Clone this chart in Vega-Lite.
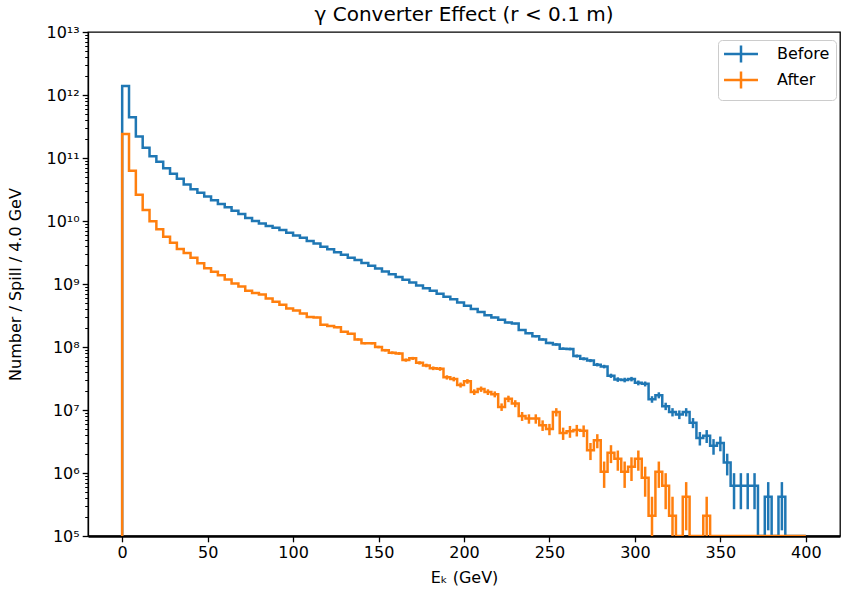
{
  "$schema": "https://vega.github.io/schema/vega-lite/v6.json",
  "width": 752,
  "height": 504,
  "autosize": {"type": "none"},
  "padding": {"left": 88, "top": 32, "right": 2, "bottom": 54},
  "title": {"text": "γ Converter Effect (r < 0.1 m)", "fontSize": 20, "font": "DejaVu Sans", "fontWeight": "normal", "color": "black", "offset": -1, "anchor": "middle"},
  "config": {
    "font": "DejaVu Sans",
    "view": {"stroke": "black", "strokeWidth": 1.3},
    "axis": {"domainColor": "black", "tickColor": "black", "labelColor": "black", "titleColor": "black", "labelFont": "DejaVu Sans", "titleFont": "DejaVu Sans", "labelFontSize": 16, "titleFontSize": 16, "titleFontWeight": "normal", "grid": false, "domainWidth": 1.3, "tickWidth": 1.3, "zindex": 1, "labelOverlap": false, "labelFlush": false},
    "legend": {"orient": "none", "legendX": 630, "legendY": 8, "padding": 6, "fillColor": "rgba(255,255,255,0.8)", "strokeColor": "#cccccc", "cornerRadius": 4, "labelFontSize": 16, "labelFont": "DejaVu Sans", "labelColor": "black", "symbolType": "M-1.33,0H4.33M1.5,-1.42V1.42", "symbolSize": 144, "symbolStrokeWidth": 2.5, "symbolFillColor": "transparent", "labelOffset": 37, "rowPadding": -2}
  },
  "datasets": {
    "h": [
      {"s":"Before","i":-1,"e":0,"v":0},
      {"s":"Before","i":0,"e":0,"c":2,"v":1.39e12,"err":5.4e8},
      {"s":"Before","i":1,"e":4,"c":6,"v":4.43e11,"err":3.05e8},
      {"s":"Before","i":2,"e":8,"c":10,"v":2.19e11,"err":2.14e8},
      {"s":"Before","i":3,"e":12,"c":14,"v":1.45e11,"err":1.75e8},
      {"s":"Before","i":4,"e":16,"c":18,"v":1.07e11,"err":1.5e8},
      {"s":"Before","i":5,"e":20,"c":22,"v":8.7e10,"err":1.35e8},
      {"s":"Before","i":6,"e":24,"c":26,"v":6.9e10,"err":1.2e8},
      {"s":"Before","i":7,"e":28,"c":30,"v":5.6e10,"err":1.08e8},
      {"s":"Before","i":8,"e":32,"c":34,"v":4.7e10,"err":9.9e7},
      {"s":"Before","i":9,"e":36,"c":38,"v":3.8e10,"err":8.9e7},
      {"s":"Before","i":10,"e":40,"c":42,"v":3.2e10,"err":8.2e7},
      {"s":"Before","i":11,"e":44,"c":46,"v":2.8e10,"err":7.7e7},
      {"s":"Before","i":12,"e":48,"c":50,"v":2.45e10,"err":7.2e7},
      {"s":"Before","i":13,"e":52,"c":54,"v":2.14e10,"err":6.7e7},
      {"s":"Before","i":14,"e":56,"c":58,"v":1.86e10,"err":6.25e7},
      {"s":"Before","i":15,"e":60,"c":62,"v":1.66e10,"err":5.9e7},
      {"s":"Before","i":16,"e":64,"c":66,"v":1.45e10,"err":5.5e7},
      {"s":"Before","i":17,"e":68,"c":70,"v":1.29e10,"err":5.2e7},
      {"s":"Before","i":18,"e":72,"c":74,"v":1.12e10,"err":4.85e7},
      {"s":"Before","i":19,"e":76,"c":78,"v":1.0e10,"err":4.6e7},
      {"s":"Before","i":20,"e":80,"c":82,"v":9.1e9,"err":4.4e7},
      {"s":"Before","i":21,"e":84,"c":86,"v":8.3e9,"err":4.2e7},
      {"s":"Before","i":22,"e":88,"c":90,"v":7.8e9,"err":4.05e7},
      {"s":"Before","i":23,"e":92,"c":94,"v":7.2e9,"err":3.9e7},
      {"s":"Before","i":24,"e":96,"c":98,"v":6.5e9,"err":3.7e7},
      {"s":"Before","i":25,"e":100,"c":102,"v":5.9e9,"err":3.5e7},
      {"s":"Before","i":26,"e":104,"c":106,"v":5.4e9,"err":3.4e7},
      {"s":"Before","i":27,"e":108,"c":110,"v":4.8e9,"err":3.2e7},
      {"s":"Before","i":28,"e":112,"c":114,"v":4.4e9,"err":3.0e7},
      {"s":"Before","i":29,"e":116,"c":118,"v":3.9e9,"err":2.9e7},
      {"s":"Before","i":30,"e":120,"c":122,"v":3.55e9,"err":2.7e7},
      {"s":"Before","i":31,"e":124,"c":126,"v":3.2e9,"err":2.6e7},
      {"s":"Before","i":32,"e":128,"c":130,"v":2.9e9,"err":2.5e7},
      {"s":"Before","i":33,"e":132,"c":134,"v":2.6e9,"err":2.3e7},
      {"s":"Before","i":34,"e":136,"c":138,"v":2.4e9,"err":2.2e7},
      {"s":"Before","i":35,"e":140,"c":142,"v":2.15e9,"err":2.1e7},
      {"s":"Before","i":36,"e":144,"c":146,"v":1.95e9,"err":2.0e7},
      {"s":"Before","i":37,"e":148,"c":150,"v":1.76e9,"err":1.9e7},
      {"s":"Before","i":38,"e":152,"c":154,"v":1.58e9,"err":1.8e7},
      {"s":"Before","i":39,"e":156,"c":158,"v":1.43e9,"err":1.7e7},
      {"s":"Before","i":40,"e":160,"c":162,"v":1.29e9,"err":1.65e7},
      {"s":"Before","i":41,"e":164,"c":166,"v":1.17e9,"err":1.57e7},
      {"s":"Before","i":42,"e":168,"c":170,"v":1.06e9,"err":1.5e7},
      {"s":"Before","i":43,"e":172,"c":174,"v":9.5e8,"err":1.41e7},
      {"s":"Before","i":44,"e":176,"c":178,"v":8.6e8,"err":1.34e7},
      {"s":"Before","i":45,"e":180,"c":182,"v":7.8e8,"err":1.28e7},
      {"s":"Before","i":46,"e":184,"c":186,"v":7.0e8,"err":1.21e7},
      {"s":"Before","i":47,"e":188,"c":190,"v":6.3e8,"err":1.15e7},
      {"s":"Before","i":48,"e":192,"c":194,"v":5.75e8,"err":1.1e7},
      {"s":"Before","i":49,"e":196,"c":198,"v":5.1e8,"err":1.03e7},
      {"s":"Before","i":50,"e":200,"c":202,"v":4.5e8,"err":9.7e6},
      {"s":"Before","i":51,"e":204,"c":206,"v":4.0e8,"err":9.2e6},
      {"s":"Before","i":52,"e":208,"c":210,"v":3.6e8,"err":8.7e6},
      {"s":"Before","i":53,"e":212,"c":214,"v":3.2e8,"err":8.2e6},
      {"s":"Before","i":54,"e":216,"c":218,"v":2.95e8,"err":7.9e6},
      {"s":"Before","i":55,"e":220,"c":222,"v":2.7e8,"err":7.5e6},
      {"s":"Before","i":56,"e":224,"c":226,"v":2.45e8,"err":7.2e6},
      {"s":"Before","i":57,"e":228,"c":230,"v":2.35e8,"err":7.0e6},
      {"s":"Before","i":58,"e":232,"c":234,"v":1.86e8,"err":6.25e6},
      {"s":"Before","i":59,"e":236,"c":238,"v":1.66e8,"err":5.9e6},
      {"s":"Before","i":60,"e":240,"c":242,"v":1.48e8,"err":5.6e6},
      {"s":"Before","i":61,"e":244,"c":246,"v":1.32e8,"err":5.3e6},
      {"s":"Before","i":62,"e":248,"c":250,"v":1.16e8,"err":4.9e6},
      {"s":"Before","i":63,"e":252,"c":254,"v":1.10e8,"err":4.8e6},
      {"s":"Before","i":64,"e":256,"c":258,"v":9.4e7,"err":4.44e6},
      {"s":"Before","i":65,"e":260,"c":262,"v":9.3e7,"err":4.42e6},
      {"s":"Before","i":66,"e":264,"c":266,"v":7.2e7,"err":3.9e6},
      {"s":"Before","i":67,"e":268,"c":270,"v":6.5e7,"err":3.7e6},
      {"s":"Before","i":68,"e":272,"c":274,"v":6.1e7,"err":3.58e6},
      {"s":"Before","i":69,"e":276,"c":278,"v":5.25e7,"err":3.32e6},
      {"s":"Before","i":70,"e":280,"c":282,"v":4.9e7,"err":3.2e6},
      {"s":"Before","i":71,"e":284,"c":286,"v":3.5e7,"err":2.71e6},
      {"s":"Before","i":72,"e":288,"c":290,"v":3.05e7,"err":2.53e6},
      {"s":"Before","i":73,"e":292,"c":294,"v":3.0e7,"err":2.51e6},
      {"s":"Before","i":74,"e":296,"c":298,"v":3.1e7,"err":2.55e6},
      {"s":"Before","i":75,"e":300,"c":302,"v":2.7e7,"err":2.38e6},
      {"s":"Before","i":76,"e":304,"c":306,"v":2.6e7,"err":2.34e6},
      {"s":"Before","i":77,"e":308,"c":310,"v":1.48e7,"err":1.76e6},
      {"s":"Before","i":78,"e":312,"c":314,"v":1.72e7,"err":1.9e6},
      {"s":"Before","i":79,"e":316,"c":318,"v":1.15e7,"err":1.55e6},
      {"s":"Before","i":80,"e":320,"c":322,"v":9.3e6,"err":1.4e6},
      {"s":"Before","i":81,"e":324,"c":326,"v":8.5e6,"err":1.34e6},
      {"s":"Before","i":82,"e":328,"c":330,"v":9.3e6,"err":1.4e6},
      {"s":"Before","i":83,"e":332,"c":334,"v":6.3e6,"err":1.15e6},
      {"s":"Before","i":84,"e":336,"c":338,"v":3.6e6,"err":8.7e5},
      {"s":"Before","i":85,"e":340,"c":342,"v":3.9e6,"err":9.05e5},
      {"s":"Before","i":86,"e":344,"c":346,"v":2.7e6,"err":7.5e5},
      {"s":"Before","i":87,"e":348,"c":350,"v":3.0e6,"err":7.9e5},
      {"s":"Before","i":88,"e":352,"c":354,"v":1.47e6,"err":5.55e5},
      {"s":"Before","i":89,"e":356,"c":358,"v":6.3e5,"err":3.64e5},
      {"s":"Before","i":90,"e":360,"c":362,"v":6.3e5,"err":3.64e5},
      {"s":"Before","i":91,"e":364,"c":366,"v":6.3e5,"err":3.64e5},
      {"s":"Before","i":92,"e":368,"c":370,"v":6.3e5,"err":3.64e5},
      {"s":"Before","i":93,"e":372,"c":374,"v":0,"err":0},
      {"s":"Before","i":94,"e":376,"c":378,"v":4.2e5,"err":2.97e5},
      {"s":"Before","i":95,"e":380,"c":382,"v":0,"err":0},
      {"s":"Before","i":96,"e":384,"c":386,"v":4.2e5,"err":2.97e5},
      {"s":"Before","i":97,"e":388,"c":390,"v":0,"err":0},
      {"s":"Before","i":98,"e":392,"c":394,"v":0,"err":0},
      {"s":"Before","i":99,"e":396,"c":398,"v":0,"err":0},
      {"s":"Before","i":100,"e":400,"v":0},
      {"s":"After","i":-1,"e":0,"v":0},
      {"s":"After","i":0,"e":0,"c":2,"v":2.4e11,"err":2.25e8},
      {"s":"After","i":1,"e":4,"c":6,"v":6.3e10,"err":1.15e8},
      {"s":"After","i":2,"e":8,"c":10,"v":2.6e10,"err":7.4e7},
      {"s":"After","i":3,"e":12,"c":14,"v":1.5e10,"err":5.6e7},
      {"s":"After","i":4,"e":16,"c":18,"v":9.9e9,"err":4.6e7},
      {"s":"After","i":5,"e":20,"c":22,"v":7.4e9,"err":3.9e7},
      {"s":"After","i":6,"e":24,"c":26,"v":5.6e9,"err":3.4e7},
      {"s":"After","i":7,"e":28,"c":30,"v":4.5e9,"err":3.1e7},
      {"s":"After","i":8,"e":32,"c":34,"v":3.6e9,"err":2.75e7},
      {"s":"After","i":9,"e":36,"c":38,"v":3.1e9,"err":2.55e7},
      {"s":"After","i":10,"e":40,"c":42,"v":2.6e9,"err":2.3e7},
      {"s":"After","i":11,"e":44,"c":46,"v":2.14e9,"err":2.1e7},
      {"s":"After","i":12,"e":48,"c":50,"v":1.78e9,"err":1.93e7},
      {"s":"After","i":13,"e":52,"c":54,"v":1.57e9,"err":1.82e7},
      {"s":"After","i":14,"e":56,"c":58,"v":1.38e9,"err":1.7e7},
      {"s":"After","i":15,"e":60,"c":62,"v":1.18e9,"err":1.57e7},
      {"s":"After","i":16,"e":64,"c":66,"v":1.02e9,"err":1.46e7},
      {"s":"After","i":17,"e":68,"c":70,"v":9.1e8,"err":1.38e7},
      {"s":"After","i":18,"e":72,"c":74,"v":7.8e8,"err":1.28e7},
      {"s":"After","i":19,"e":76,"c":78,"v":7.2e8,"err":1.23e7},
      {"s":"After","i":20,"e":80,"c":82,"v":6.8e8,"err":1.2e7},
      {"s":"After","i":21,"e":84,"c":86,"v":5.9e8,"err":1.11e7},
      {"s":"After","i":22,"e":88,"c":90,"v":5.25e8,"err":1.05e7},
      {"s":"After","i":23,"e":92,"c":94,"v":4.7e8,"err":9.9e6},
      {"s":"After","i":24,"e":96,"c":98,"v":4.1e8,"err":9.3e6},
      {"s":"After","i":25,"e":100,"c":102,"v":3.8e8,"err":8.9e6},
      {"s":"After","i":26,"e":104,"c":106,"v":3.4e8,"err":8.5e6},
      {"s":"After","i":27,"e":108,"c":110,"v":3.0e8,"err":7.9e6},
      {"s":"After","i":28,"e":112,"c":114,"v":2.95e8,"err":7.9e6},
      {"s":"After","i":29,"e":116,"c":118,"v":2.25e8,"err":6.9e6},
      {"s":"After","i":30,"e":120,"c":122,"v":2.15e8,"err":6.7e6},
      {"s":"After","i":31,"e":124,"c":126,"v":2.05e8,"err":6.6e6},
      {"s":"After","i":32,"e":128,"c":130,"v":1.74e8,"err":6.0e6},
      {"s":"After","i":33,"e":132,"c":134,"v":1.62e8,"err":5.8e6},
      {"s":"After","i":34,"e":136,"c":138,"v":1.32e8,"err":5.3e6},
      {"s":"After","i":35,"e":140,"c":142,"v":1.15e8,"err":4.9e6},
      {"s":"After","i":36,"e":144,"c":146,"v":1.15e8,"err":4.9e6},
      {"s":"After","i":37,"e":148,"c":150,"v":1.0e8,"err":4.6e6},
      {"s":"After","i":38,"e":152,"c":154,"v":8.9e7,"err":4.3e6},
      {"s":"After","i":39,"e":156,"c":158,"v":8.1e7,"err":4.1e6},
      {"s":"After","i":40,"e":160,"c":162,"v":7.9e7,"err":4.1e6},
      {"s":"After","i":41,"e":164,"c":166,"v":6.2e7,"err":3.6e6},
      {"s":"After","i":42,"e":168,"c":170,"v":6.6e7,"err":3.7e6},
      {"s":"After","i":43,"e":172,"c":174,"v":5.6e7,"err":3.4e6},
      {"s":"After","i":44,"e":176,"c":178,"v":5.1e7,"err":3.3e6},
      {"s":"After","i":45,"e":180,"c":182,"v":4.6e7,"err":3.1e6},
      {"s":"After","i":46,"e":184,"c":186,"v":4.5e7,"err":3.1e6},
      {"s":"After","i":47,"e":188,"c":190,"v":3.3e7,"err":2.6e6},
      {"s":"After","i":48,"e":192,"c":194,"v":3.1e7,"err":2.55e6},
      {"s":"After","i":49,"e":196,"c":198,"v":2.5e7,"err":2.3e6},
      {"s":"After","i":50,"e":200,"c":202,"v":2.85e7,"err":2.45e6},
      {"s":"After","i":51,"e":204,"c":206,"v":1.93e7,"err":2.0e6},
      {"s":"After","i":52,"e":208,"c":210,"v":2.15e7,"err":2.1e6},
      {"s":"After","i":53,"e":212,"c":214,"v":1.93e7,"err":2.0e6},
      {"s":"After","i":54,"e":216,"c":218,"v":1.78e7,"err":1.93e6},
      {"s":"After","i":55,"e":220,"c":222,"v":1.12e7,"err":1.53e6},
      {"s":"After","i":56,"e":224,"c":226,"v":1.51e7,"err":1.78e6},
      {"s":"After","i":57,"e":228,"c":230,"v":1.27e7,"err":1.63e6},
      {"s":"After","i":58,"e":232,"c":234,"v":8.0e6,"err":1.3e6},
      {"s":"After","i":59,"e":236,"c":238,"v":7.3e6,"err":1.24e6},
      {"s":"After","i":60,"e":240,"c":242,"v":7.3e6,"err":1.24e6},
      {"s":"After","i":61,"e":244,"c":246,"v":5.75e6,"err":1.1e6},
      {"s":"After","i":62,"e":248,"c":250,"v":5.0e6,"err":1.02e6},
      {"s":"After","i":63,"e":252,"c":254,"v":9.3e6,"err":1.4e6},
      {"s":"After","i":64,"e":256,"c":258,"v":4.3e6,"err":9.5e5},
      {"s":"After","i":65,"e":260,"c":262,"v":4.6e6,"err":9.8e5},
      {"s":"After","i":66,"e":264,"c":266,"v":4.8e6,"err":1.0e6},
      {"s":"After","i":67,"e":268,"c":270,"v":4.7e6,"err":9.9e5},
      {"s":"After","i":68,"e":272,"c":274,"v":2.3e6,"err":6.95e5},
      {"s":"After","i":69,"e":276,"c":278,"v":3.3e6,"err":8.3e5},
      {"s":"After","i":70,"e":280,"c":282,"v":1.05e6,"err":4.7e5},
      {"s":"After","i":71,"e":284,"c":286,"v":2.1e6,"err":6.64e5},
      {"s":"After","i":72,"e":288,"c":290,"v":1.68e6,"err":5.94e5},
      {"s":"After","i":73,"e":292,"c":294,"v":1.05e6,"err":4.7e5},
      {"s":"After","i":74,"e":296,"c":298,"v":1.26e6,"err":5.14e5},
      {"s":"After","i":75,"e":300,"c":302,"v":1.68e6,"err":5.94e5},
      {"s":"After","i":76,"e":304,"c":306,"v":8.4e5,"err":4.2e5},
      {"s":"After","i":77,"e":308,"c":310,"v":2.1e5,"err":2.1e5},
      {"s":"After","i":78,"e":312,"c":314,"v":1.05e6,"err":4.7e5},
      {"s":"After","i":79,"e":316,"c":318,"v":6.3e5,"err":3.64e5},
      {"s":"After","i":80,"e":320,"c":322,"v":2.1e5,"err":2.1e5},
      {"s":"After","i":81,"e":324,"c":326,"v":0,"err":0},
      {"s":"After","i":82,"e":328,"c":330,"v":4.2e5,"err":2.97e5},
      {"s":"After","i":83,"e":332,"c":334,"v":0,"err":0},
      {"s":"After","i":84,"e":336,"c":338,"v":0,"err":0},
      {"s":"After","i":85,"e":340,"c":342,"v":2.1e5,"err":2.1e5},
      {"s":"After","i":86,"e":344,"c":346,"v":0,"err":0},
      {"s":"After","i":87,"e":348,"c":350,"v":0,"err":0},
      {"s":"After","i":88,"e":352,"c":354,"v":0,"err":0},
      {"s":"After","i":89,"e":356,"c":358,"v":0,"err":0},
      {"s":"After","i":90,"e":360,"c":362,"v":0,"err":0},
      {"s":"After","i":91,"e":364,"c":366,"v":0,"err":0},
      {"s":"After","i":92,"e":368,"c":370,"v":0,"err":0},
      {"s":"After","i":93,"e":372,"c":374,"v":0,"err":0},
      {"s":"After","i":94,"e":376,"c":378,"v":0,"err":0},
      {"s":"After","i":95,"e":380,"c":382,"v":0,"err":0},
      {"s":"After","i":96,"e":384,"c":386,"v":0,"err":0},
      {"s":"After","i":97,"e":388,"c":390,"v":0,"err":0},
      {"s":"After","i":98,"e":392,"c":394,"v":0,"err":0},
      {"s":"After","i":99,"e":396,"c":398,"v":0,"err":0},
      {"s":"After","i":100,"e":400,"v":0}
    ]
  },
  "data": {"name": "h"},
  "encoding": {
    "color": {"field": "s", "type": "nominal", "title": null, "scale": {"domain": ["Before", "After"], "range": ["#1f77b4", "#ff7f0e"]}}
  },
  "layer": [
    {
      "transform": [{"filter": "datum.s == 'Before' && isValid(datum.c)"}],
      "mark": {"type": "errorbar", "ticks": false, "thickness": 2.5},
      "encoding": {
        "x": {"field": "c", "type": "quantitative", "title": "Eₖ (GeV)", "scale": {"domain": [-20, 420], "nice": false, "zero": false},
          "axis": {"title": "Eₖ (GeV)", "values": [0, 50, 100, 150, 200, 250, 300, 350, 400], "tickSize": 5.8, "labelPadding": 3, "titlePadding": 9, "domainWidth": 2.6}},
        "y": {"field": "v", "type": "quantitative", "title": "Number / Spill / 4.0 GeV", "scale": {"type": "log", "domain": [1e5, 1e13], "clamp": true, "nice": false},
          "axis": {"title": "Number / Spill / 4.0 GeV", "titlePadding": 23, "labelPadding": 3,
            "values": [1e5,2e5,3e5,4e5,5e5,6e5,7e5,8e5,9e5,1e6,2e6,3e6,4e6,5e6,6e6,7e6,8e6,9e6,1e7,2e7,3e7,4e7,5e7,6e7,7e7,8e7,9e7,1e8,2e8,3e8,4e8,5e8,6e8,7e8,8e8,9e8,1e9,2e9,3e9,4e9,5e9,6e9,7e9,8e9,9e9,1e10,2e10,3e10,4e10,5e10,6e10,7e10,8e10,9e10,1e11,2e11,3e11,4e11,5e11,6e11,7e11,8e11,9e11,1e12,2e12,3e12,4e12,5e12,6e12,7e12,8e12,9e12,1e13],
            "labelExpr": "datum.value == 1e5 ? '10⁵' : datum.value == 1e6 ? '10⁶' : datum.value == 1e7 ? '10⁷' : datum.value == 1e8 ? '10⁸' : datum.value == 1e9 ? '10⁹' : datum.value == 1e10 ? '10¹⁰' : datum.value == 1e11 ? '10¹¹' : datum.value == 1e12 ? '10¹²' : datum.value == 1e13 ? '10¹³' : ''",
            "tickSize": {"condition": {"test": "abs(log(datum.value)/LN10 - round(log(datum.value)/LN10)) < 0.001", "value": 5.8}, "value": 3.3},
            "tickWidth": {"condition": {"test": "abs(log(datum.value)/LN10 - round(log(datum.value)/LN10)) < 0.001", "value": 1.3}, "value": 1}}},
        "yError": {"field": "err"}
      }
    },
    {
      "transform": [{"filter": "datum.s == 'Before'"}],
      "mark": {"type": "line", "interpolate": "step-after", "strokeWidth": 2.5, "clip": true},
      "encoding": {
        "x": {"field": "e", "type": "quantitative", "title": "Eₖ (GeV)"},
        "y": {"field": "v", "type": "quantitative", "title": "Number / Spill / 4.0 GeV"},
        "order": {"field": "i", "type": "quantitative"}
      }
    },
    {
      "transform": [{"filter": "datum.s == 'After' && isValid(datum.c)"}],
      "mark": {"type": "errorbar", "ticks": false, "thickness": 2.5},
      "encoding": {
        "x": {"field": "c", "type": "quantitative", "title": "Eₖ (GeV)"},
        "y": {"field": "v", "type": "quantitative", "title": "Number / Spill / 4.0 GeV"},
        "yError": {"field": "err"}
      }
    },
    {
      "transform": [{"filter": "datum.s == 'After'"}],
      "mark": {"type": "line", "interpolate": "step-after", "strokeWidth": 2.5, "clip": true},
      "encoding": {
        "x": {"field": "e", "type": "quantitative", "title": "Eₖ (GeV)"},
        "y": {"field": "v", "type": "quantitative", "title": "Number / Spill / 4.0 GeV"},
        "order": {"field": "i", "type": "quantitative"}
      }
    }
  ]
}
